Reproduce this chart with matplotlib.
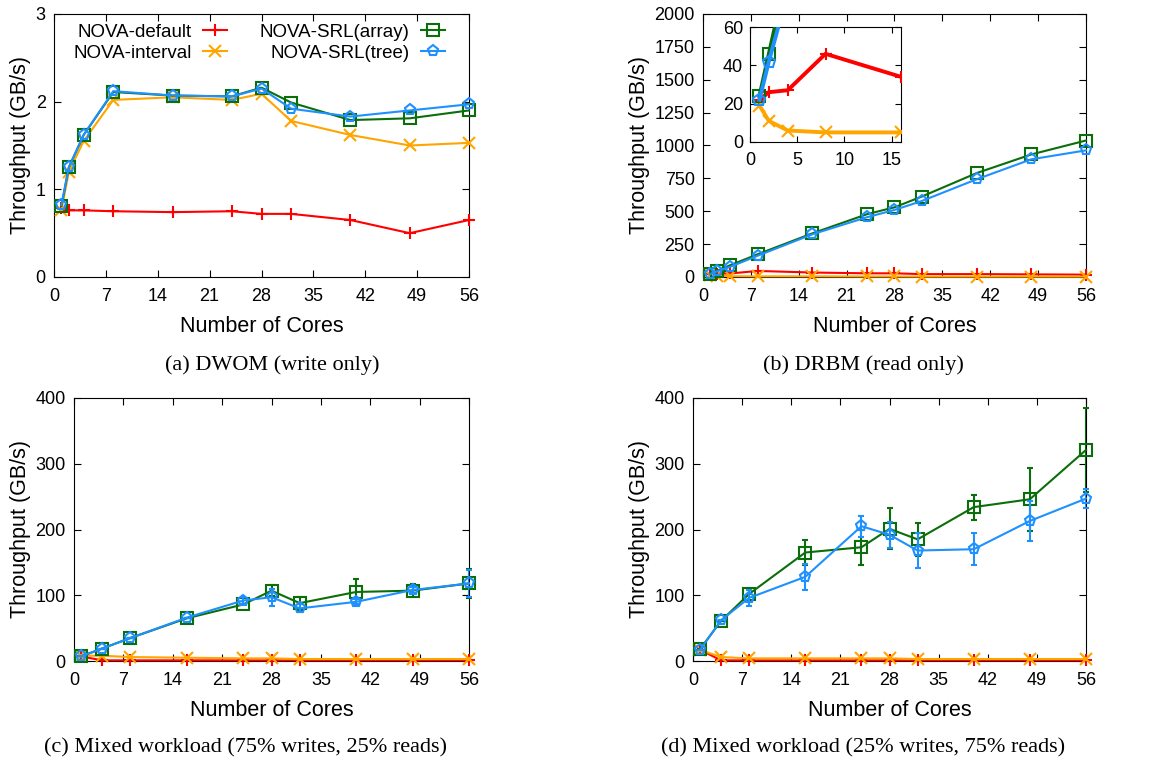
import matplotlib
matplotlib.use('Agg')
import matplotlib.pyplot as plt

plt.rcParams['font.family'] = ['Liberation Sans', 'DejaVu Sans']

# cores on the x axis
cores = [1, 2, 4, 8, 16, 24, 28, 32, 40, 48, 56]
cores_mix = [1, 4, 8, 16, 24, 28, 32, 40, 48, 56]

# (a) DWOM
a_default = [0.79, 0.76, 0.76, 0.75, 0.74, 0.75, 0.72, 0.72, 0.65, 0.50, 0.65]
a_interval = [0.76, 1.20, 1.55, 2.02, 2.05, 2.02, 2.09, 1.78, 1.62, 1.50, 1.53]
a_array = [0.81, 1.25, 1.62, 2.11, 2.07, 2.06, 2.16, 1.99, 1.79, 1.81, 1.90]
a_tree = [0.82, 1.25, 1.62, 2.12, 2.07, 2.06, 2.15, 1.92, 1.83, 1.90, 1.97]

# (b) DRBM
b_default = [22, 26, 27, 46, 34, 28, 28, 22, 22, 20, 18]
b_interval = [19, 11, 6, 5, 5, 4, 4, 3, 3, 3, 3]
b_array = [24, 46, 90, 173, 332, 478, 530, 612, 790, 932, 1038]
b_tree = [22, 42, 78, 162, 325, 455, 510, 578, 743, 895, 963]

# (c) 75% writes
c_default = [7, 1, 1, 1, 1, 1, 1, 1, 1, 1]
c_interval = [8, 8, 6, 5, 4, 4, 3, 3, 3, 3]
c_array = [7, 19, 35, 65, 86, 107, 88, 105, 107, 118]
c_array_err = [0, 0, 0, 0, 0, 8, 10, 20, 10, 22]
c_tree = [7, 19, 35, 66, 92, 97, 80, 90, 108, 118]
c_tree_err = [0, 0, 0, 0, 5, 13, 6, 4, 5, 20]

# (d) 25% writes
d_default = [17, 1, 1, 1, 1, 1, 1, 1, 1, 1]
d_interval = [17, 6, 4, 4, 4, 4, 3, 3, 3, 3]
d_array = [18, 61, 102, 165, 173, 201, 185, 234, 246, 321]
d_array_err = [0, 0, 0, 19, 27, 31, 25, 19, 48, 64]
d_tree = [17, 62, 96, 128, 205, 192, 168, 170, 213, 247]
d_tree_err = [0, 0, 12, 20, 16, 20, 27, 24, 30, 14]

labels = ['NOVA-default', 'NOVA-interval', 'NOVA-SRL(array)', 'NOVA-SRL(tree)']
colors = ['#ff0000', '#ffa500', '#0a6e0a', '#1e90ff']
markers = ['+', 'x', 's', 'p']

TICK = 13
LABEL = 15.5
W, H = 1162, 764


def box(l, t, r, b):
    return [l / W, 1 - b / H, (r - l) / W, (b - t) / H]


def style_axes(ax, yticks):
    ax.set_xlim(0, 56)
    ax.set_ylim(0, yticks[-1])
    ax.set_xticks(range(0, 57, 7))
    ax.set_yticks(yticks)
    ax.tick_params(direction='in', top=True, right=True, labelsize=TICK, length=5)
    ax.tick_params(axis='x', pad=8)
    ax.tick_params(axis='y', pad=6)
    ax.set_xlabel('Number of Cores', fontsize=LABEL, labelpad=8)
    ax.set_ylabel('Throughput (GB/s)', fontsize=LABEL, labelpad=3)


def draw_lines(ax, x, series, lw=1.5, ms=8, errs=None):
    for i, y in enumerate(series):
        kw = dict(color=colors[i], marker=markers[i], lw=lw, ms=ms,
                  mew=1.5, label=labels[i], zorder=3 + i)
        if markers[i] in ('s', 'p'):
            kw['mfc'] = 'none'
        if errs is not None and errs[i] is not None:
            ax.errorbar(x, y, yerr=errs[i], capsize=2, elinewidth=1.5,
                        capthick=1.5, **kw)
        else:
            ax.plot(x, y, **kw)


def caption(x, y, text):
    fig.text(x, y, text, ha='center', va='center',
             family='Liberation Serif', fontsize=16)


fig = plt.figure(figsize=(W / 100, H / 100), dpi=100)

# (a)
ax_a = fig.add_axes(box(54, 14, 469, 277))
draw_lines(ax_a, cores, [a_default, a_interval, a_array, a_tree])
style_axes(ax_a, [0, 1, 2, 3])
ax_a.legend(loc='upper left', bbox_to_anchor=(0.01, 1.02), ncol=2, frameon=False,
            markerfirst=False, fontsize=13.5, handlelength=1.3, columnspacing=1.75,
            handletextpad=0.6, labelspacing=0.2, borderpad=0.3)
caption(0.234, 0.5223, '(a) DWOM (write only)')

# (b)
ax_b = fig.add_axes(box(703, 14, 1086, 277))
draw_lines(ax_b, cores, [b_default, b_interval, b_array, b_tree])
style_axes(ax_b, list(range(0, 2001, 250)))
caption(0.743, 0.5223, '(b) DRBM (read only)')

ax_in = fig.add_axes(box(750, 27, 901, 142))
draw_lines(ax_in, cores[:5], [b_default[:5], b_interval[:5], b_array[:5], b_tree[:5]],
           lw=2.8, ms=9)
ax_in.set_xlim(0, 16)
ax_in.set_ylim(0, 60)
ax_in.set_xticks([0, 5, 10, 15])
ax_in.set_yticks([0, 20, 40, 60])
ax_in.tick_params(direction='in', top=True, right=True, labelsize=TICK, length=4)
ax_in.tick_params(axis='x', pad=7)
ax_in.tick_params(axis='y', pad=5)

# (c)
ax_c = fig.add_axes(box(74, 398, 469, 661))
draw_lines(ax_c, cores_mix, [c_default, c_interval, c_array, c_tree],
           errs=[None, None, c_array_err, c_tree_err])
style_axes(ax_c, [0, 100, 200, 300, 400])
caption(0.2113, 0.0209, '(c) Mixed workload (75% writes, 25% reads)')

# (d)
ax_d = fig.add_axes(box(693, 398, 1086, 661))
draw_lines(ax_d, cores_mix, [d_default, d_interval, d_array, d_tree],
           errs=[None, None, d_array_err, d_tree_err])
style_axes(ax_d, [0, 100, 200, 300, 400])
caption(0.743, 0.0209, '(d) Mixed workload (25% writes, 75% reads)')

for ax in (ax_a, ax_b, ax_c, ax_d):
    for line in ax.lines:
        line.set_clip_on(False)

fig.savefig('out.png', dpi=100)
